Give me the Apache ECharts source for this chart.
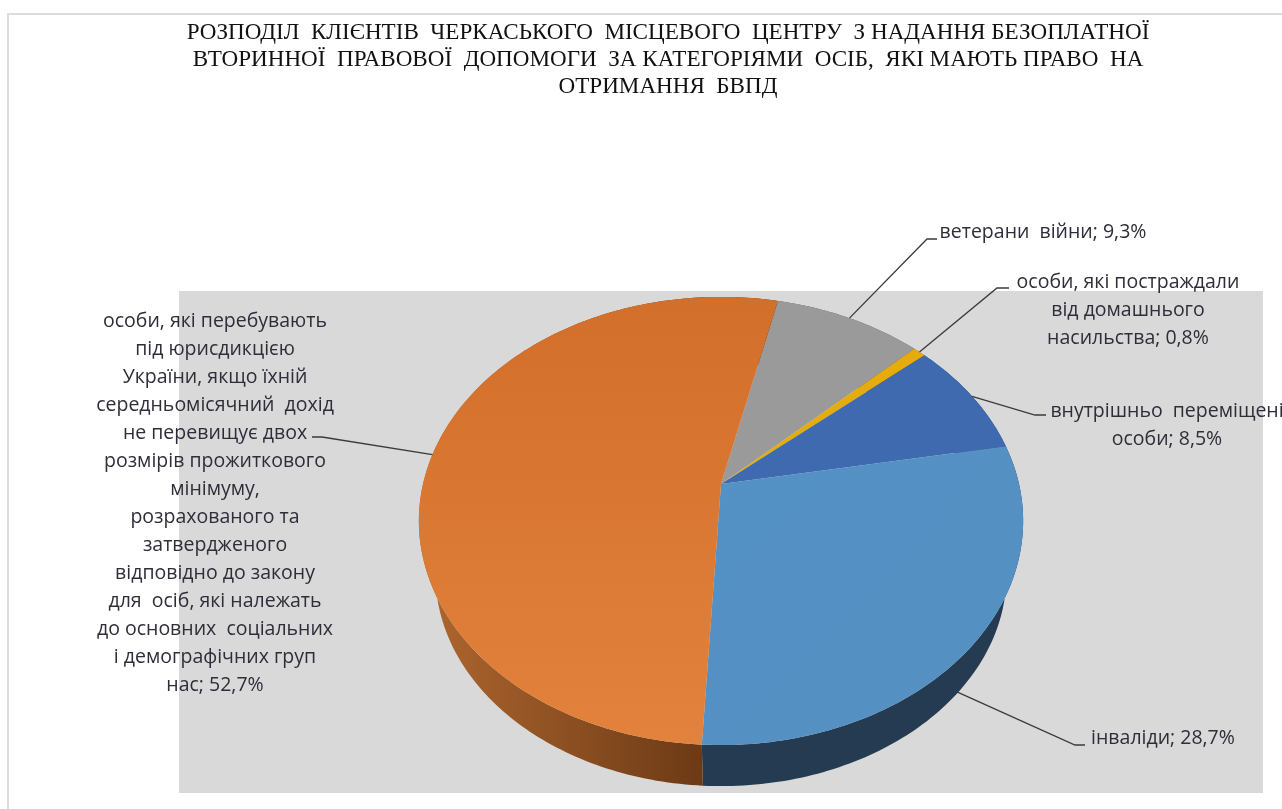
<!DOCTYPE html>
<html>
<head>
<meta charset="utf-8">
<style>html,body{margin:0;padding:0;background:#fff}#c{width:1282px;height:809px}</style>
<script src="https://cdn.jsdelivr.net/npm/echarts@6/dist/echarts.min.js"></script>
</head>
<body>
<div id="c"></div>
<script>
const titleText = 'РОЗПОДІЛ  КЛІЄНТІВ  ЧЕРКАСЬКОГО  МІСЦЕВОГО  ЦЕНТРУ  З НАДАННЯ БЕЗОПЛАТНОЇ\nВТОРИННОЇ  ПРАВОВОЇ  ДОПОМОГИ  ЗА КАТЕГОРІЯМИ  ОСІБ,  ЯКІ МАЮТЬ ПРАВО  НА\nОТРИМАННЯ  БВПД';
const categories = [
  'ветерани  війни',
  'особи, які постраждали\nвід домашнього\nнасильства',
  'внутрішньо  переміщені\nособи',
  'інваліди',
  'особи, які перебувають\nпід юрисдикцією\nУкраїни, якщо їхній\nсередньомісячний  дохід\nне перевищує двох\nрозмірів прожиткового\nмінімуму,\nрозрахованого та\nзатвердженого\nвідповідно до закону\nдля  осіб, які належать\nдо основних  соціальних\nі демографічних груп\nнас'
];
const values = [9.3, 0.8, 8.5, 28.7, 52.7];

// styling and layout, separate from the data
const sliceColors = ['#9a9a9a', '#e5ac0b', '#3f6ab0',
  {type:'linear',x:0,y:0,x2:1,y2:1,colorStops:[{offset:0,color:'#5491c4'},{offset:1,color:'#5590c2'}]},
  {type:'linear',x:0,y:0,x2:0,y2:1,colorStops:[{offset:0,color:'#d26f2a'},{offset:1,color:'#e2823c'}]}];
const wallColors = ['#5c5c5c', '#8a6700', '#263f69', '#243b52',
  {type:'linear',x:0,y:0,x2:1,y2:0,colorStops:[{offset:0,color:'#b0672f'},{offset:1,color:'#5a2e0f'}]}];
const labelPos = [[1043,232],[1128,310],[1167,425],[1163,738],[215,503]];
const labelElbows = [
  [[927,239],[937,239]],
  [[997,288],[1009,288]],
  [[1035,415],[1046,415]],
  [[1075,745],[1085,745]],
  [[322,437],[312,437]]
];
const centre = [721, 484], axisX = 298, axisY = 218, tilt = 0.165, startDeg = 12.8;
const lowerDrop = 55.4, lowerScale = 0.945;

function project(deg, lower) {
  const r = deg * Math.PI / 180, X = Math.sin(r), Y = Math.cos(r), w = 1 + tilt * Y;
  const s = lower ? lowerScale : 1;
  return [centre[0] + s * axisX * X / w, centre[1] + (lower ? lowerDrop : 0) - s * axisY * Y / w];
}
const total = values.reduce((a, b) => a + b, 0);
function arc(a0, a1, lower) {
  const pts = [], n = Math.max(4, Math.ceil(Math.abs(a1 - a0) / 1));
  for (let i = 0; i <= n; i++) pts.push(project(a0 + (a1 - a0) * i / n, lower));
  return pts;
}
const chart = echarts.init(document.getElementById('c'), null, {renderer:'canvas'});
chart.setOption({
  animation: false,
  backgroundColor: '#ffffff',
  title: {
    text: titleText, left: 663, top: 14, textAlign: 'center',
    textStyle: {fontFamily:'Liberation Serif', fontSize:23.1, fontWeight:'normal', color:'#111', lineHeight:27}
  },
  graphic: [
    {type:'polyline', z:0, shape:{points:[[8,809],[8,14],[1282,14]]}, style:{stroke:'#dcdcdc', lineWidth:2, fill:null}, silent:true},
    {type:'rect', z:0, shape:{x:179,y:291,width:1084,height:502}, style:{fill:'#d9d9d9'}, silent:true}
  ],
  series: [{
    type: 'custom',
    coordinateSystem: 'none',
    silent: true,
    data: values,
    renderItem(params, api) {
      const i = params.dataIndex;
      let before = 0;
      for (let k = 0; k < i; k++) before += values[k];
      const a0 = startDeg + before / total * 360;
      const a1 = a0 + api.value(0) / total * 360;
      const mid = (a0 + a1) / 2;
      const top = arc(a0, a1, false);
      const wall = top.concat(arc(a1, a0, true));
      const front = Math.cos(mid * Math.PI / 180) < 0;
      const anchor = project(mid, front);
      const text = categories[i] + '; ' + String(api.value(0)).replace('.', ',') + '%';
      return {
        type: 'group',
        children: [
          {type:'polygon', z2:1, shape:{points:wall}, style:{fill:wallColors[i]}},
          {type:'polygon', z2:2, shape:{points:[centre].concat(top)}, style:{fill:sliceColors[i]}},
          {type:'polyline', z2:3, shape:{points:[anchor].concat(labelElbows[i])}, style:{stroke:'#3a3a3a', lineWidth:1.3, fill:null}},
          {type:'text', z2:4, x:labelPos[i][0], y:labelPos[i][1],
           style:{text:text, align:'center', verticalAlign:'middle', fontFamily:'Open Sans', fontSize:19.5, lineHeight:28, fill:'#2e2e3a'}}
        ]
      };
    }
  }]
});
</script>
</body>
</html>
